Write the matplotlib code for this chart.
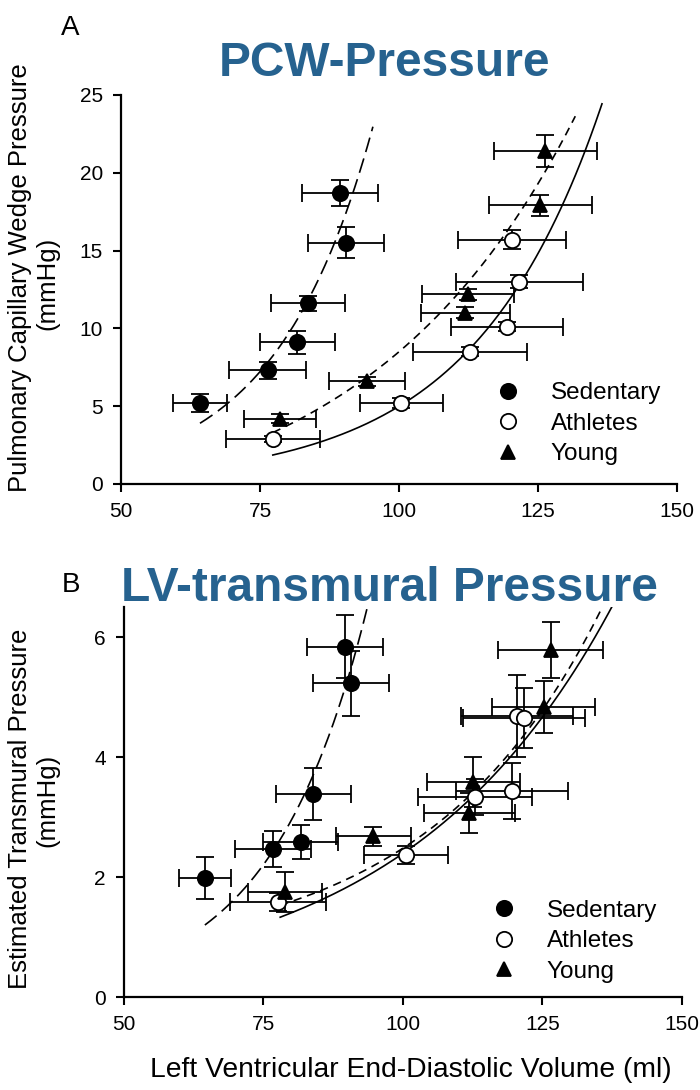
import numpy as np
import matplotlib
matplotlib.use("Agg")
import matplotlib.pyplot as plt
from matplotlib.lines import Line2D

plt.rcParams['font.family'] = ['Liberation Sans', 'DejaVu Sans']

# ---- Panel A: pulmonary capillary wedge pressure vs LV end-diastolic volume ----
pcw_sed_vol = [64.2, 76.4, 81.7, 83.6, 90.5, 89.4]
pcw_sed_vol_err = [4.8, 6.9, 6.7, 6.7, 6.8, 6.8]
pcw_sed_p = [5.2, 7.3, 9.1, 11.6, 15.5, 18.7]
pcw_sed_p_err = [0.6, 0.55, 0.75, 0.5, 1.0, 0.85]

pcw_ath_vol = [77.3, 100.4, 112.8, 119.4, 121.6, 120.3]
pcw_ath_vol_err = [8.5, 7.5, 10.2, 10.0, 11.4, 9.7]
pcw_ath_p = [2.9, 5.2, 8.5, 10.1, 13.0, 15.7]
pcw_ath_p_err = [0.2, 0.3, 0.3, 0.3, 0.4, 0.6]

pcw_yng_vol = [78.6, 94.2, 112.4, 111.9, 125.4, 126.3]
pcw_yng_vol_err = [6.5, 6.8, 8.3, 8.0, 9.3, 9.3]
pcw_yng_p = [4.2, 6.6, 12.2, 11.0, 17.9, 21.4]
pcw_yng_p_err = [0.3, 0.3, 0.35, 0.35, 0.7, 1.0]

# ---- Panel B: estimated transmural pressure ----
tm_sed_vol = [64.5, 76.7, 81.7, 83.9, 89.6, 90.7]
tm_sed_vol_err = [4.7, 6.8, 6.7, 6.7, 6.8, 6.8]
tm_sed_p = [1.98, 2.47, 2.58, 3.38, 5.84, 5.23]
tm_sed_p_err = [0.35, 0.3, 0.28, 0.43, 0.52, 0.54]

tm_ath_vol = [77.6, 100.5, 112.9, 119.5, 120.4, 121.7]
tm_ath_vol_err = [8.6, 7.5, 10.2, 10.0, 10.0, 11.0]
tm_ath_p = [1.58, 2.37, 3.33, 3.43, 4.68, 4.65]
tm_ath_p_err = [0.15, 0.15, 0.3, 0.47, 0.68, 0.5]

tm_yng_vol = [78.9, 94.7, 112.6, 111.9, 125.2, 126.5]
tm_yng_vol_err = [6.6, 6.7, 8.3, 8.2, 9.3, 9.4]
tm_yng_p = [1.75, 2.68, 3.58, 3.07, 4.83, 5.78]
tm_yng_p_err = [0.33, 0.16, 0.42, 0.33, 0.43, 0.47]

# exponential pressure-volume fits: p = c + a * exp(b * (v - v0)), drawn from v0 to v1
pcw_fits = {
    'Sedentary': (64.2, 95.3, 3.9, 0.057, 0.0),
    'Athletes': (77.3, 136.5, 1.86, 0.0435, 0.0),
    'Young': (77.3, 131.7, 6.3, 0.0265, -3.0),
}
tm_fits = {
    'Sedentary': (64.5, 93.7, 1.2, 0.058, 0.0),
    'Athletes': (78.0, 137.4, 1.33, 0.0267, 0.0),
    'Young': (78.0, 135.7, 0.93, 0.032, 0.6),
}

groups = ['Sedentary', 'Athletes', 'Young']
markers = {'Sedentary': 'o', 'Athletes': 'o', 'Young': '^'}
face = {'Sedentary': 'black', 'Athletes': 'white', 'Young': 'black'}
msize = {'Sedentary': 11, 'Athletes': 11, 'Young': 10}
fit_style = {'Sedentary': (0, (9, 4)), 'Athletes': '-', 'Young': (0, (5, 3.5))}

W, H = 700, 1090


def fpos(x, y):
    return x / W, 1 - y / H


def draw_panel(ax, series, fits, ylim, yticks, legend_anchor):
    for g in groups:
        v0, v1, a, b, c = fits[g]
        v = np.linspace(v0, v1, 200)
        ax.plot(v, c + a * np.exp(b * (v - v0)), color='black', lw=1.2,
                linestyle=fit_style[g], zorder=2)
    for g in groups:
        vol, vol_err, p, p_err = series[g]
        ax.errorbar(vol, p, xerr=vol_err, yerr=p_err, fmt=markers[g],
                    ms=msize[g], mfc=face[g], mec='black', mew=1.3,
                    ecolor='black', elinewidth=1.3, capsize=6.5, capthick=1.3,
                    zorder=3)
    ax.set_xlim(50, 150)
    ax.set_ylim(*ylim)
    ax.set_xticks([50, 75, 100, 125, 150])
    ax.set_yticks(yticks)
    for side in ['top', 'right']:
        ax.spines[side].set_visible(False)
    for side in ['left', 'bottom']:
        ax.spines[side].set_linewidth(1.6)
    ax.tick_params(direction='out', length=6, width=1.5, labelsize=15, pad=7)

    handles = [Line2D([], [], linestyle='none', marker=markers[g], ms=msize[g],
                      mfc=face[g], mec='black', mew=1.3) for g in groups]
    ax.legend(handles, groups, loc='upper left', bbox_to_anchor=legend_anchor,
              frameon=False, fontsize=17.5, handlelength=1.0,
              handletextpad=1.26, labelspacing=0.35, borderpad=0,
              borderaxespad=0)


fig = plt.figure(figsize=(7, 10.9), dpi=100)
ax_a = fig.add_axes([0.1729, 0.556, 0.7943, 0.3569])
ax_b = fig.add_axes([0.1771, 0.0853, 0.7971, 0.3578])

draw_panel(ax_a, {
    'Sedentary': (pcw_sed_vol, pcw_sed_vol_err, pcw_sed_p, pcw_sed_p_err),
    'Athletes': (pcw_ath_vol, pcw_ath_vol_err, pcw_ath_p, pcw_ath_p_err),
    'Young': (pcw_yng_vol, pcw_yng_vol_err, pcw_yng_p, pcw_yng_p_err),
}, pcw_fits, (0, 25), [0, 5, 10, 15, 20, 25], (0.674, 0.262))

draw_panel(ax_b, {
    'Sedentary': (tm_sed_vol, tm_sed_vol_err, tm_sed_p, tm_sed_p_err),
    'Athletes': (tm_ath_vol, tm_ath_vol_err, tm_ath_p, tm_ath_p_err),
    'Young': (tm_yng_vol, tm_yng_vol_err, tm_yng_p, tm_yng_p_err),
}, tm_fits, (0, 6.5), [0, 2, 4, 6], (0.659, 0.249))

title_color = '#26628f'
fig.text(*fpos(384, 76), 'PCW-Pressure', ha='center', va='baseline',
         fontsize=34.5, fontweight='bold', color=title_color)
fig.text(*fpos(389, 601), 'LV-transmural Pressure', ha='center',
         va='baseline', fontsize=34.5, fontweight='bold', color=title_color)
fig.text(*fpos(61, 35), 'A', ha='left', va='baseline', fontsize=20)
fig.text(*fpos(62, 592), 'B', ha='left', va='baseline', fontsize=20)

fig.text(*fpos(20, 278), 'Pulmonary Capillary Wedge Pressure', rotation=90,
         ha='center', va='center', fontsize=18.5)
fig.text(*fpos(47, 283), '(mmHg)', rotation=90, ha='center', va='center',
         fontsize=18.5)
fig.text(*fpos(20, 809), 'Estimated Transmural Pressure', rotation=90,
         ha='center', va='center', fontsize=18.5)
fig.text(*fpos(47, 800), '(mmHg)', rotation=90, ha='center', va='center',
         fontsize=18.5)
fig.text(*fpos(411, 1077), 'Left Ventricular End-Diastolic Volume (ml)',
         ha='center', va='baseline', fontsize=20.3)

fig.savefig('out.png', dpi=100, facecolor='white')
